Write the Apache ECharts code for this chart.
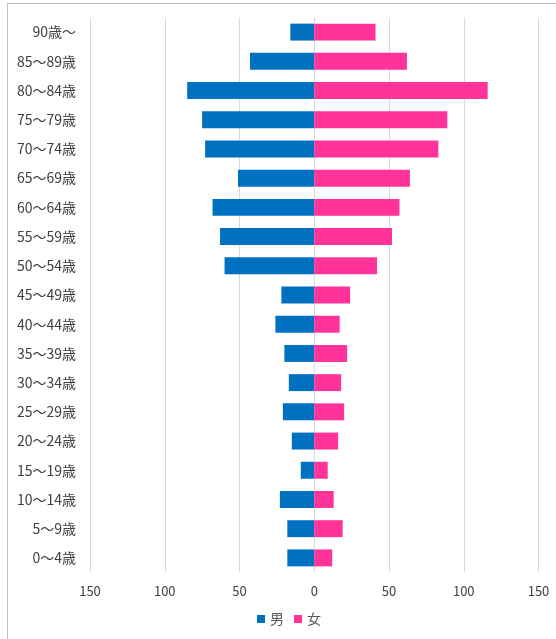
<!DOCTYPE html>
<html><head><meta charset="utf-8">
<script src="https://cdn.jsdelivr.net/npm/echarts@6/dist/echarts.min.js"></script>
<style>
html,body{margin:0;padding:0;background:#fff;overflow:hidden;}
#frame{position:absolute;left:7px;top:3px;width:600px;height:700px;border:1px solid #bfbfbf;box-sizing:border-box;}
#c{position:absolute;left:0;top:0;width:556px;height:639px;}
</style></head>
<body>
<div id="frame"></div>
<div id="c"></div>
<script>
const categories = ['0〜4歳','5〜9歳','10〜14歳','15〜19歳','20〜24歳','25〜29歳','30〜34歳','35〜39歳','40〜44歳','45〜49歳','50〜54歳','55〜59歳','60〜64歳','65〜69歳','70〜74歳','75〜79歳','80〜84歳','85〜89歳','90歳〜'];
const male   = [18,18,23,9,15,21,17,20,26,22,60,63,68,51,73,75,85,43,16];
const female = [12,19,13,9,16,20,18,22,17,24,42,52,57,64,83,89,116,62,41];
const xTicks = [-150,-100,-50,0,50,100,150];

const chart = echarts.init(document.getElementById('c'));
const font = '"Noto Sans CJK JP","Noto Sans",sans-serif';
chart.setOption({
  animation:false,
  textStyle:{fontFamily:font},
  grid:{left:90,right:17.5,top:17.5,bottom:66.5,containLabel:false},
  legend:{top:612,left:257,padding:0,itemWidth:8,itemHeight:8,itemGap:10,
    icon:'rect',textStyle:{fontSize:14,color:'#595959',fontFamily:font},data:['男','女']},
  xAxis:{type:'value',min:xTicks[0],max:xTicks[xTicks.length-1],interval:50,
    axisLine:{show:false},axisTick:{show:false},
    splitLine:{lineStyle:{color:'#d9d9d9',width:1}},
    axisLabel:{formatter:v=>Math.abs(v),fontSize:13,color:'#404040',margin:12,fontFamily:font}},
  yAxis:{type:'category',data:categories,
    axisLine:{show:false,onZero:false},axisTick:{show:false},
    axisLabel:{fontSize:14,color:'#404040',margin:14,fontFamily:font}},
  series:[
    {name:'男',type:'bar',stack:'t',data:male.map(v=>-v),barCategoryGap:'42%',
      itemStyle:{color:'#0070c0'}},
    {name:'女',type:'bar',stack:'t',data:female,barCategoryGap:'42%',
      itemStyle:{color:'#ff3399'}}
  ]
});
</script>
</body></html>
